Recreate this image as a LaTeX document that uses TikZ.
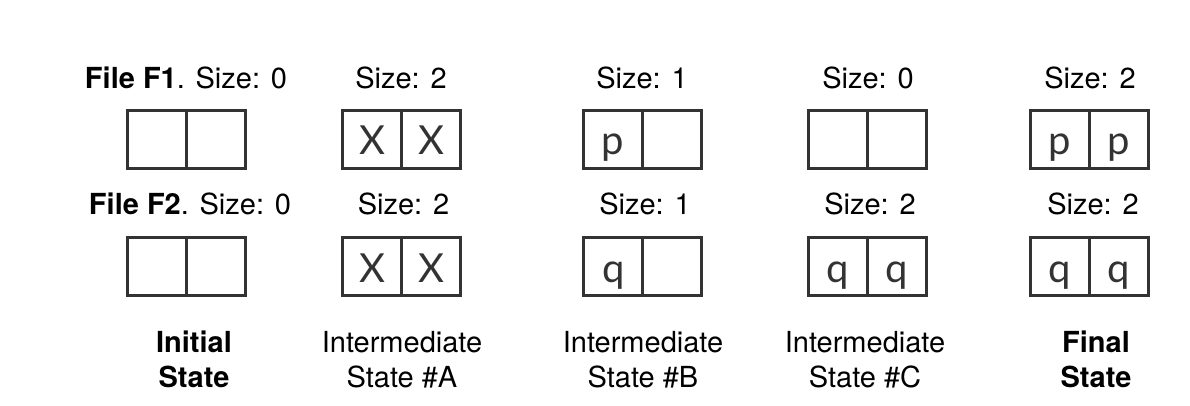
\documentclass[tikz,border=0pt]{standalone}
\usepackage{fontspec}
\setmainfont{TeX Gyre Heros}
\newfontfamily\cellfont{Lato}
\usetikzlibrary{positioning}
\definecolor{boxgray}{HTML}{333333}

\begin{document}
\begin{tikzpicture}[x=0.5pt, y=-0.5pt]
    \tikzset{
		cell/.style={draw=boxgray, line width=1.5pt, rectangle, outer sep=0pt, inner sep=0pt,
			minimum width=29.5pt, minimum height=29pt, text height=15.5pt, text depth=0pt,
			text=boxgray, font=\cellfont\fontsize{20}{20}\selectfont},
		sizelabel/.style={anchor=base, inner sep=0pt, font=\fontsize{14.5}{17.5}\selectfont},
		statelabel/.style={anchor=base, inner sep=0pt, align=center, font=\fontsize{14.5}{17.5}\selectfont}
	}
	\useasboundingbox (0,0) rectangle (1190,406);

	% --- Estado inicial ---
	\node [sizelabel] (i_s1) at (186,89) {\textbf{File F1}. Size: 0};
	\node [cell, anchor=east] (i_f1a) at (186.7,139.5) {};
	\node [cell, right=0pt of i_f1a] (i_f1b) {};
	\node [sizelabel] (i_s2) at (190,215) {\textbf{File F2}. Size: 0};
	\node [cell, anchor=east] (i_f2a) at (186.7,266.6) {};
	\node [cell, right=0pt of i_f2a] (i_f2b) {};
	\node [statelabel] (i_lbl) at (194,388) {\textbf{Initial}\\ \textbf{State}};

	% --- Estado intermedio A ---
	\node [sizelabel] (a_s1) at (401,89) {Size: 2};
	\node [cell, anchor=east] (a_f1a) at (401.7,139.5) {X};
	\node [cell, right=0pt of a_f1a] (a_f1b) {X};
	\node [sizelabel] (a_s2) at (403.5,215) {Size: 2};
	\node [cell, anchor=east] (a_f2a) at (401.7,266.6) {X};
	\node [cell, right=0pt of a_f2a] (a_f2b) {X};
	\node [statelabel] (a_lbl) at (402,388) {Intermediate\\ State \#A};

	% --- Estado intermedio B ---
	\node [sizelabel] (b_s1) at (642,89) {Size: 1};
	\node [cell, anchor=east] (b_f1a) at (642.7,139.5) {p};
	\node [cell, right=0pt of b_f1a] (b_f1b) {};
	\node [sizelabel] (b_s2) at (645,215) {Size: 1};
	\node [cell, anchor=east] (b_f2a) at (642.7,266.6) {q};
	\node [cell, right=0pt of b_f2a] (b_f2b) {};
	\node [statelabel] (b_lbl) at (643,388) {Intermediate\\ State \#B};

	% --- Estado intermedio C ---
	\node [sizelabel] (c_s1) at (868,89) {Size: 0};
	\node [cell, anchor=east] (c_f1a) at (867,139.5) {};
	\node [cell, right=0pt of c_f1a] (c_f1b) {};
	\node [sizelabel] (c_s2) at (870,215) {Size: 2};
	\node [cell, anchor=east] (c_f2a) at (867,266.6) {q};
	\node [cell, right=0pt of c_f2a] (c_f2b) {q};
	\node [statelabel] (c_lbl) at (865,388) {Intermediate\\ State \#C};

	% --- Estado final ---
	\node [sizelabel] (f_s1) at (1090,89) {Size: 2};
	\node [cell, anchor=east] (f_f1a) at (1089.3,139.5) {p};
	\node [cell, right=0pt of f_f1a] (f_f1b) {p};
	\node [sizelabel] (f_s2) at (1093,215) {Size: 2};
	\node [cell, anchor=east] (f_f2a) at (1089.3,266.6) {q};
	\node [cell, right=0pt of f_f2a] (f_f2b) {q};
	\node [statelabel] (f_lbl) at (1096,388) {\textbf{Final}\\ \textbf{State}};
\end{tikzpicture}
\end{document}
